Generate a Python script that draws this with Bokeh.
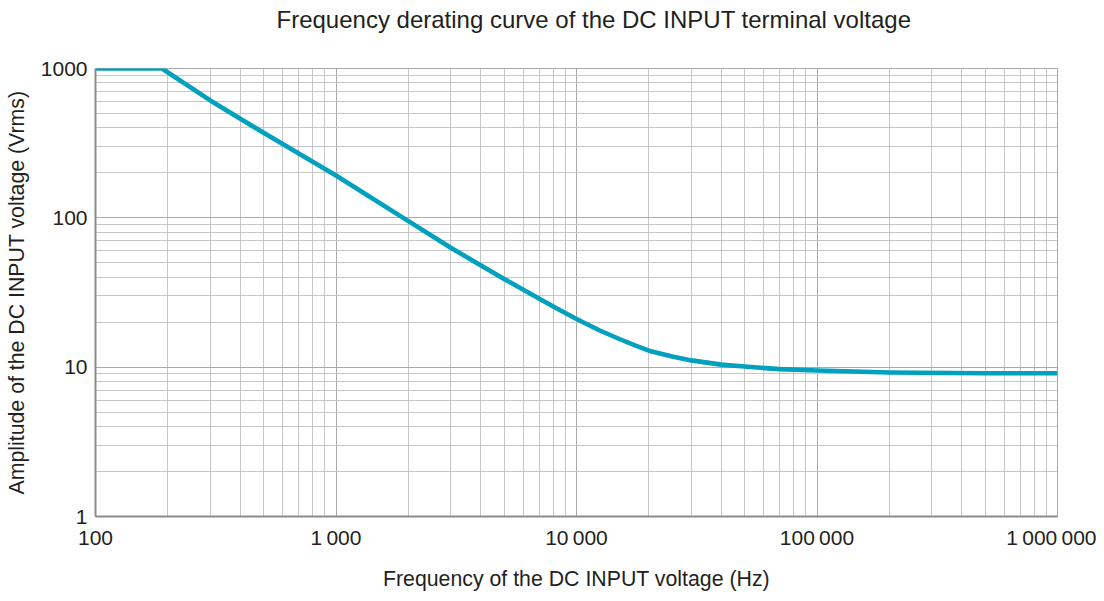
from bokeh.plotting import figure
from bokeh.models import FixedTicker, Range1d, Title
from bokeh.embed import file_html
from bokeh.resources import INLINE

# ---- data ----
freq_hz = [100, 189, 300, 500, 1000, 2000, 3000, 5000, 8000, 10000, 12500,
           15000, 17500, 20000, 25000, 30000, 40000, 50000, 70000, 100000, 200000, 500000, 1000000]
ampl_vrms = [1000, 1000, 611, 371, 192, 95, 63, 39, 25.5, 21, 17.6,
             15.5, 14.0, 12.9, 11.8, 11.1, 10.4, 10.1, 9.7, 9.5, 9.2, 9.1, 9.1]

x_ticks = [100, 1000, 10000, 100000, 1000000]
x_tick_labels = ["100", "1\u2009000", "10\u2009000", "100\u2009000", "1\u2009000\u2009000"]
y_ticks = [1, 10, 100, 1000]
y_tick_labels = ["1", "10", "100", "1000"]

title_text = "Frequency derating curve of the DC INPUT terminal voltage"
x_label = "Frequency of the DC INPUT voltage (Hz)"
y_label = "Amplitude of the DC INPUT voltage (Vrms)"

FONT = "Liberation Sans"
TXT = "#231f20"

def minor_of(ticks):
    out = []
    for t in ticks[:-1]:
        out += [t * k for k in range(2, 10)]
    return out

p = figure(width=1096, height=593, x_axis_type="log", y_axis_type="log",
           x_range=Range1d(100, 1000000), y_range=Range1d(1, 1000),
           output_backend="svg", toolbar_location=None,
           min_border_left=95, min_border_right=39, min_border_top=68, min_border_bottom=77)
p.title = None
# empty spacer between the frame and the title
spacer = Title(text=" ", text_font_size="10px", standoff=21)
p.add_layout(spacer, "above")
t = Title(text=title_text, align="left", offset=181, vertical_align="top",
          text_font=FONT, text_font_size="24px", text_font_style="normal",
          text_color=TXT, standoff=0)
p.add_layout(t, "above")

p.line(freq_hz, ampl_vrms, line_color="#00a0bf", line_width=4.6, line_join="round")

p.xaxis.ticker = FixedTicker(ticks=x_ticks, minor_ticks=minor_of(x_ticks))
p.yaxis.ticker = FixedTicker(ticks=y_ticks, minor_ticks=minor_of(y_ticks))
p.xaxis.major_label_overrides = {k: v for k, v in zip(x_ticks, x_tick_labels)}
p.yaxis.major_label_overrides = {k: v for k, v in zip(y_ticks, y_tick_labels)}

for ax in (p.xaxis[0], p.yaxis[0]):
    ax.major_tick_line_color = None
    ax.minor_tick_line_color = None
    ax.major_tick_out = 0
    ax.minor_tick_out = 0
    ax.major_tick_in = 0
    ax.minor_tick_in = 0
    ax.axis_line_color = "#8c8c8c"
    ax.axis_line_width = 2
    ax.major_label_text_font = FONT
    ax.major_label_text_font_size = "21px"
    ax.major_label_text_color = TXT
    ax.axis_label_text_font = FONT
    ax.axis_label_text_font_size = "21.3px"
    ax.axis_label_text_font_style = "normal"
    ax.axis_label_text_color = TXT

p.xaxis.axis_label = x_label
p.yaxis.axis_label = y_label
p.xaxis.major_label_standoff = 9
p.yaxis.major_label_standoff = 8
p.xaxis.axis_label_standoff = 15
p.yaxis.axis_label_standoff = 9

p.xgrid.grid_line_color = "#a9a9a9"
p.ygrid.grid_line_color = "#a9a9a9"
p.xgrid.minor_grid_line_color = "#c6c6c6"
p.ygrid.minor_grid_line_color = "#c6c6c6"

p.outline_line_color = "#a8a8a8"
p.outline_line_width = 1
p.background_fill_color = "white"
p.border_fill_color = "white"

open("out.html", "w").write(file_html(p, INLINE))
